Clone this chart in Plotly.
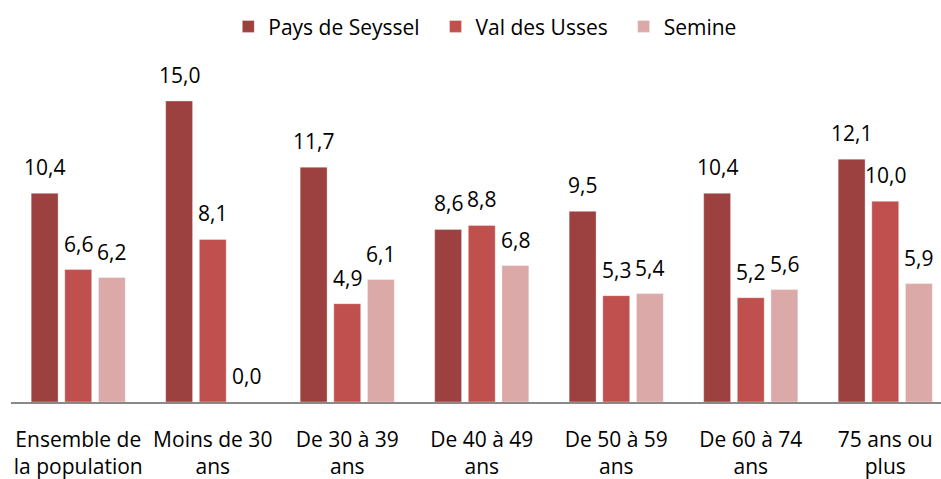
import plotly.graph_objects as go

categories = [
    "Ensemble de<br>la population",
    "Moins de 30<br>ans",
    "De 30 à 39<br>ans",
    "De 40 à 49<br>ans",
    "De 50 à 59<br>ans",
    "De 60 à 74<br>ans",
    "75 ans ou<br>plus",
]
series_names = ["Pays de Seyssel", "Val des Usses", "Semine"]
pays_de_seyssel = [10.4, 15.0, 11.7, 8.6, 9.5, 10.4, 12.1]
val_des_usses = [6.6, 8.1, 4.9, 8.8, 5.3, 5.2, 10.0]
semine = [6.2, 0.0, 6.1, 6.8, 5.4, 5.6, 5.9]

series_values = [pays_de_seyssel, val_des_usses, semine]
colors = ["#9C4040", "#C0504D", "#DCA9A9"]

FONT = "Open Sans"
FS = 21
W, H = 941, 479
margin = dict(l=11, r=0, t=60, b=77)
cat_px = 134.5
plot_w = W - margin["l"] - margin["r"]
x_max = -0.5 + plot_w / cat_px

# a little extra room after each legend entry except the last
pad = "\u00a0\u00a0"
legend_labels = [n + pad for n in series_names[:-1]] + [series_names[-1]]

fig = go.Figure()
for name, vals, col in zip(legend_labels, series_values, colors):
    fig.add_trace(go.Bar(
        name=name, x=categories, y=vals,
        marker=dict(color=col, line=dict(color="rgba(255,255,255,0.35)", width=1)),
    ))

# value labels placed above each bar, offset to the bar's slot in the group
bargap = 0.25
slot_px = cat_px * (1 - bargap) / 3
annotations = []
for i, vals in enumerate(series_values):
    for c, v in zip(categories, vals):
        annotations.append(dict(
            x=c, y=v, xref="x", yref="y",
            text=f"{v:.1f}".replace(".", ","),
            showarrow=False, xanchor="center", yanchor="bottom",
            xshift=(i - 1) * slot_px, yshift=10,
            font=dict(family=FONT, size=FS, color="#000000"),
        ))

fig.update_layout(
    width=W, height=H,
    margin=margin,
    paper_bgcolor="white", plot_bgcolor="white",
    barmode="group", bargap=bargap, bargroupgap=0.2,
    font=dict(family=FONT, size=FS, color="#000000"),
    legend=dict(
        orientation="h", x=0.51, xanchor="center", y=0.987, yanchor="top",
        yref="container", font=dict(family=FONT, size=FS),
        traceorder="normal",
    ),
    annotations=annotations,
    xaxis=dict(
        range=[-0.5, x_max], showgrid=False, showline=True,
        linecolor="#898989", linewidth=1.5, ticks="", ticklabelstandoff=18,
        tickfont=dict(family=FONT, size=FS),
    ),
    yaxis=dict(range=[0, 342 / 20.07], visible=False, showgrid=False),
)

fig.write_html("out.html")
